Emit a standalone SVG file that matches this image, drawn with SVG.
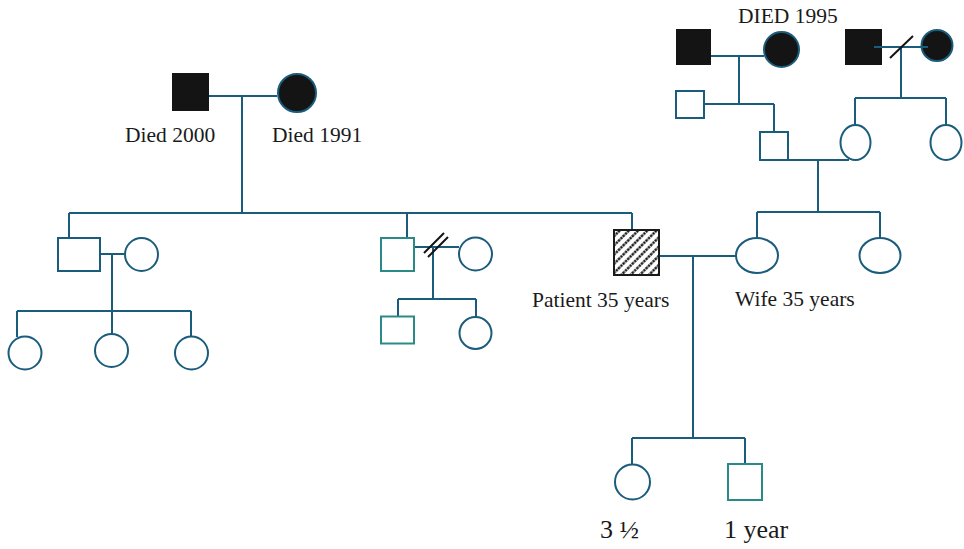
<svg xmlns="http://www.w3.org/2000/svg" width="964" height="549" viewBox="0 0 964 549">
<defs>
<style>
.ln{stroke:#1a5c7c;stroke-width:2;fill:none}
.fc{fill:#fff;stroke:#1a5c7c;stroke-width:2}
.fs{fill:#fff;stroke:#1a5c7c;stroke-width:2}
.ts{fill:#fff;stroke:#2a8a88;stroke-width:2}
.blk{fill:#141414}
.bc{fill:#141414;stroke:#1a5c7c;stroke-width:2}
.sl{stroke:#141414;stroke-width:2;fill:none}
text{font-family:"Liberation Serif","Times New Roman",serif;fill:#1a1a1a}
.t{font-size:21.5px}
.tb{font-size:26px}
</style>
<pattern id="hatch" patternUnits="userSpaceOnUse" width="6.5" height="6.5" patternTransform="rotate(-45)">
<rect width="6.5" height="6.5" fill="#fff"/>
<line x1="0" y1="3.25" x2="6.5" y2="3.25" stroke="#111" stroke-width="2.2" stroke-dasharray="2.5 0.8"/>
</pattern>
</defs>
<g id="connectors">
<path class="ln" d="M209 96H277M242 96V213M69 213H632M69 213V238M407 213V238M632 213V230"/>
<path class="ln" d="M100 254H125M112 254V311M17 311H191M17 311V337M112 311V334M191 311V337"/>
<path class="ln" d="M414 247H459M433 247V299M398 299H476M398 299V316M476 299V317"/>
<path class="ln" d="M659 256H736M693 256V438M632 438H745M632 438V464M745 438V464"/>
<path class="ln" d="M711 56H764M739 56V104M704 104H774M774 104V132M788 160H849M818 160V212M757 212H880M757 212V238M880 212V238"/>
<path class="ln" d="M901 47V98M855 98H946M855 98V125M946 98V125"/>
</g>
<g id="gf1"><rect class="blk" x="172" y="73" width="37" height="38"/></g>
<g id="gm1"><circle class="bc" cx="297" cy="93" r="19"/></g>
<g id="gf2"><rect class="blk" x="676" y="29" width="35" height="36"/></g>
<g id="gm2"><circle class="bc" cx="781.5" cy="49.5" r="17.5"/></g>
<g id="gf3"><rect class="blk" x="845" y="29" width="37" height="36"/></g>
<g id="gm3"><circle class="bc" cx="937" cy="45.5" r="15.5"/></g>
<g id="gm3line"><path class="ln" d="M874 47H928"/><path class="sl" d="M890 58L913 36"/></g>
<g id="uncle2"><rect class="fs" x="676" y="91" width="28" height="27"/></g>
<g id="wifefather"><rect class="fs" x="760" y="132" width="28" height="28"/></g>
<g id="wifemother"><ellipse class="fc" cx="855.5" cy="142.5" rx="15" ry="17.5"/></g>
<g id="aunt3"><ellipse class="fc" cx="946" cy="142.5" rx="15.5" ry="17.5"/></g>
<g id="son1"><rect class="fs" x="58" y="238" width="42" height="33"/></g>
<g id="son1wife"><circle class="fc" cx="141.5" cy="254.5" r="16.5"/></g>
<g id="gc1"><circle class="fc" cx="25" cy="353" r="16.5"/></g>
<g id="gc2"><circle class="fc" cx="111.5" cy="350.5" r="16.5"/></g>
<g id="gc3"><circle class="fc" cx="191.5" cy="353" r="16.5"/></g>
<g id="son2"><rect class="ts" x="381" y="238" width="33" height="33"/></g>
<g id="son2wife"><circle class="fc" cx="475.5" cy="254" r="16.5"/></g>
<g id="divorce"><path class="sl" d="M424 253L444 233M428 257L448 237"/></g>
<g id="gc4"><rect class="ts" x="381" y="316.5" width="33" height="27"/></g>
<g id="gc5"><circle class="fc" cx="475.5" cy="333" r="16"/></g>
<g id="patient"><rect x="614" y="230" width="45" height="45" fill="url(#hatch)" stroke="#1a1a1a" stroke-width="2"/></g>
<g id="wife"><ellipse class="fc" cx="757" cy="255.5" rx="21" ry="17.5"/></g>
<g id="wifesister"><ellipse class="fc" cx="880" cy="255.5" rx="20.5" ry="17.5"/></g>
<g id="daughter"><circle class="fc" cx="632.5" cy="482" r="17.5"/></g>
<g id="son"><rect class="ts" x="728" y="464" width="34" height="36"/></g>
<g id="labels">
<text class="t" x="125" y="142">Died 2000</text>
<text class="t" x="272" y="142">Died 1991</text>
<text class="t" x="738" y="23">DIED 1995</text>
<text class="t" x="532" y="307">Patient 35 years</text>
<text class="t" x="735" y="306">Wife 35 years</text>
<text class="tb" x="600" y="538">3 ½</text>
<text class="tb" x="724" y="538">1 year</text>
</g>
</svg>
